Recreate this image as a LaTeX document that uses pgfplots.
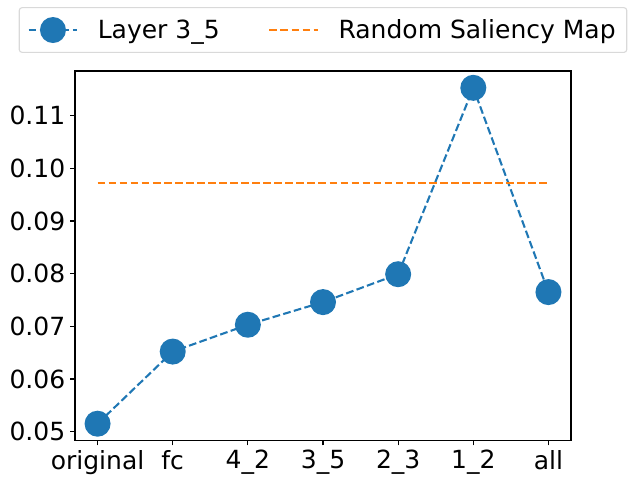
\documentclass[border=0pt]{standalone}
\usepackage{pgfplots}
\pgfplotsset{compat=1.18}
\usepackage{fontspec}
\setmainfont{DejaVu Sans}
\definecolor{mplblue}{HTML}{1F77B4}
\definecolor{mplorange}{HTML}{FF7F0E}
\begin{document}
\begin{tikzpicture}
\begin{axis}[
    scale only axis,
    width=357pt,
    height=266pt,
    xmin=-0.3, xmax=6.3,
    ymin=0.0483, ymax=0.1185,
    xtick={0,...,6},
    xticklabels={original,fc,4\_2,3\_5,2\_3,1\_2,all},
    ytick={0.05,0.06,...,0.11},
    yticklabel style={/pgf/number format/.cd,fixed,fixed zerofill,precision=2},
    /pgf/number format/assume math mode=true,
    tick label style={font=\fontsize{18}{21}\selectfont},
    tick align=outside,
    tick pos=left,
    major tick length=3.5pt,
    every tick/.style={black,line width=0.8pt},
    axis line style={line width=0.8pt},
    legend columns=2,
    legend style={at={(0.5,1.0)},anchor=south,yshift=13pt,
        font=\fontsize{18}{21}\selectfont,
        draw=black!15,rounded corners=2pt,line width=0.8pt,
        inner xsep=6pt,inner ysep=6.5pt,
        /tikz/every odd column/.append style={column sep=12pt},
        /tikz/every even column/.append style={column sep=33pt}},
    legend cell align=left,
]
\addplot[mplblue, line width=1.5pt, dash pattern=on 5.55pt off 2.4pt,
    mark=*, mark size=8.6pt, mark options={solid, draw=mplblue, fill=mplblue},
    legend image code/.code={
        \draw[mplblue, line width=1.5pt, dash pattern=on 5.55pt off 2.4pt] (0pt,0pt) -- (35pt,0pt);
        \fill[mplblue, solid] (17.5pt,0pt) circle (8.6pt);
    }]
coordinates {
    (0,0.0515)
    (1,0.0652)
    (2,0.0703)
    (3,0.0746)
    (4,0.0799)
    (5,0.1153)
    (6,0.0765)
};
\addlegendentry{Layer 3\_5}
\addplot[mplorange, line width=1.5pt, dash pattern=on 5.55pt off 2.4pt,
    legend image code/.code={
        \draw[mplorange, line width=1.5pt, dash pattern=on 5.55pt off 2.4pt] (0pt,0pt) -- (35pt,0pt);
    }]
coordinates {(0,0.0972) (6,0.0972)};
\addlegendentry{Random Saliency Map}
\coordinate (bl) at (rel axis cs:0,0);
\coordinate (tr) at (rel axis cs:1,1);
\end{axis}
\pgfresetboundingbox
\useasboundingbox ([xshift=-54pt,yshift=-31.7pt]bl) rectangle ([xshift=47.5pt,yshift=51.1pt]tr);
\end{tikzpicture}
\end{document}
